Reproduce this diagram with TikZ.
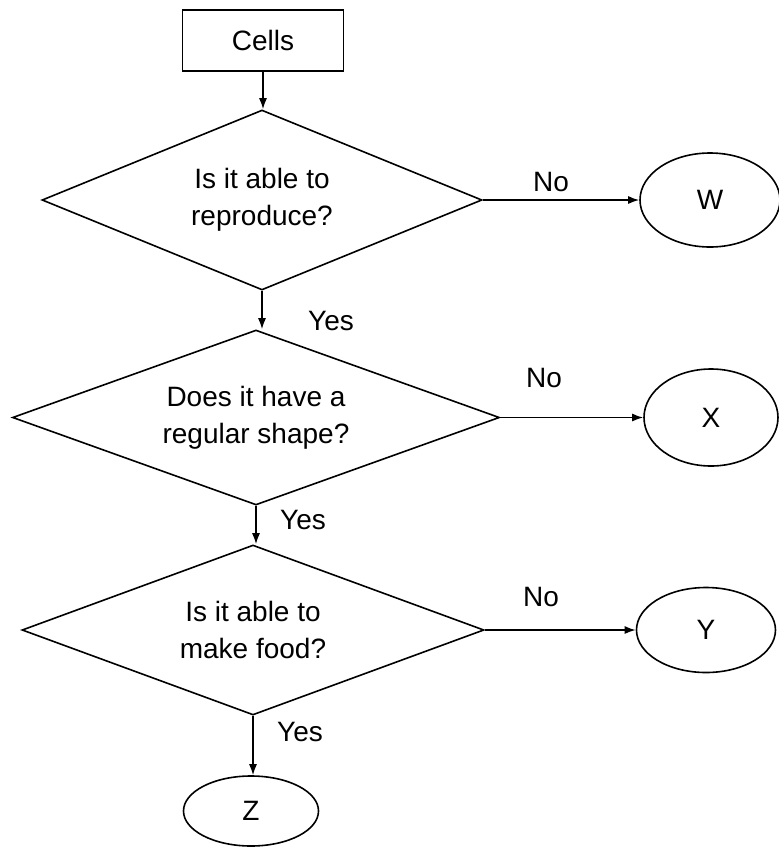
\documentclass[tikz,border=0pt]{standalone}
\usepackage{fontspec}
\setmainfont{Liberation Sans}
\usetikzlibrary{shapes.geometric,arrows.meta}
\begin{document}
\begin{tikzpicture}[x=1pt,y=-1pt,
  every node/.style={font=\fontsize{28}{37}\selectfont},
  box/.style={draw, line width=1.6pt, minimum width=161pt, minimum height=61pt, inner sep=0pt},
  decision/.style={draw, diamond, shape aspect=2.7, line width=1.6pt, inner sep=0pt, align=center},
  leaf/.style={draw, ellipse, line width=1.6pt, inner sep=0pt},
  link/.style={line width=1.5pt, -{Latex[length=11pt,width=8pt]}},
  lbl/.style={inner sep=0pt}]
\useasboundingbox (0,0) rectangle (779,847);
\node[box] (cells) at (263,40.5) {Cells};
\node[decision, minimum width=440pt, minimum height=180pt] (d1) at (262,200) {Is it able to\\reproduce?};
\node[decision, minimum width=487pt, minimum height=175pt] (d2) at (256,417.5) {Does it have a\\regular shape?};
\node[decision, minimum width=462pt, minimum height=170pt] (d3) at (253,630) {Is it able to\\make food?};
\node[leaf, minimum width=140pt, minimum height=94pt] (w) at (710,200) {W};
\node[leaf, minimum width=134pt, minimum height=97pt] (x) at (711,417.5) {X};
\node[leaf, minimum width=139pt, minimum height=85pt] (y) at (706,630) {Y};
\node[leaf, minimum width=135pt, minimum height=70pt] (z) at (251,811) {Z};
\draw[link] (cells.south) -- (cells.south |- d1.north);
\draw[link] (d1.south) -- (d1.south |- d2.north);
\draw[link] (d2.south) -- (d2.south |- d3.north);
\draw[link] (d3.south) -- (d3.south |- z.north);
\draw[link] (d1.east) -- (w.west);
\draw[link] (d2.east) -- (x.west);
\draw[link] (d3.east) -- (y.west);
\node[lbl] (no1) at (551,182) {No};
\node[lbl] (no2) at (544,378) {No};
\node[lbl] (no3) at (541,597) {No};
\node[lbl] (yes1) at (331,321) {Yes};
\node[lbl] (yes2) at (303,520) {Yes};
\node[lbl] (yes3) at (300,732) {Yes};
\end{tikzpicture}
\end{document}
